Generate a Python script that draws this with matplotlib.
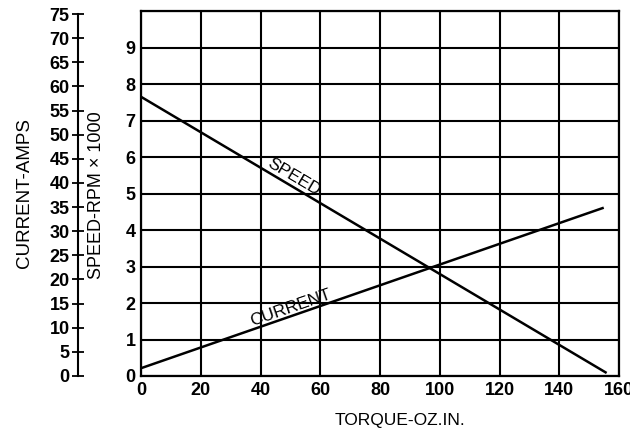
import numpy as np
import matplotlib
matplotlib.use("Agg")
import matplotlib.pyplot as plt

plt.rcParams['font.family'] = ['Liberation Sans', 'DejaVu Sans']

# Data
speed_torque = [0, 155.5]
speed_krpm = [7.65, 0.1]
current_torque = [0, 154.5]
current_amps = [1.6, 34.5]

x_ticks = [0, 20, 40, 60, 80, 100, 120, 140, 160]
speed_ticks = [0, 1, 2, 3, 4, 5, 6, 7, 8, 9]
current_ticks = list(range(0, 80, 5))

AMPS_PER_KRPM = 7.5

W, H = 630, 430
fig = plt.figure(figsize=(W / 100, H / 100), dpi=100)
left, right, top, bottom = 141, 619, 11, 376
ax = fig.add_axes([left / W, 1 - bottom / H, (right - left) / W, (bottom - top) / H])

ax.set_xlim(0, 160)
ax.set_ylim(0, 10)
ax.set_xticks(x_ticks)
ax.set_yticks(list(range(0, 11)))
ax.set_yticklabels([str(v) if v in speed_ticks else '' for v in range(0, 11)])
ax.grid(True, color='black', linewidth=1.5)
for s in ax.spines.values():
    s.set_linewidth(1.6)
    s.set_color('black')
ax.tick_params(length=0, labelsize=13, pad=4)
for lab in ax.get_xticklabels() + ax.get_yticklabels():
    lab.set_fontweight('bold')

ax.plot(speed_torque, speed_krpm, color='black', linewidth=1.8, zorder=3)
ax.plot(current_torque, [c / AMPS_PER_KRPM for c in current_amps], color='black', linewidth=1.8, zorder=3)

def angle_of(xs, ys):
    p = ax.transData.transform(np.column_stack([xs, ys]))
    return np.degrees(np.arctan2(p[1, 1] - p[0, 1], p[1, 0] - p[0, 0]))

a_speed = angle_of(speed_torque, speed_krpm)
a_cur = angle_of(current_torque, [c / AMPS_PER_KRPM for c in current_amps])
ax.text(51, 5.45, 'SPEED', rotation=a_speed, ha='center', va='center',
        rotation_mode='anchor', fontsize=12.5, zorder=4)
ax.text(50, 1.88, 'CURRENT', rotation=a_cur, ha='center', va='center',
        rotation_mode='anchor', fontsize=12.5, zorder=4)

# outer current axis
ax2 = fig.add_axes([78 / W, 1 - bottom / H, 0.001, (bottom - top) / H])
ax2.set_ylim(0, 75 * (bottom - top) / (bottom - 14))
ax2.set_xticks([])
ax2.set_yticks(current_ticks)
for k in ['top', 'right', 'bottom']:
    ax2.spines[k].set_visible(False)
ax2.spines['left'].set_bounds(0, 75)
ax2.spines['left'].set_linewidth(1.5)
ax2.tick_params(axis='y', direction='inout', length=8, width=1.3, labelsize=13, pad=2)
for lab in ax2.get_yticklabels():
    lab.set_fontweight('bold')
ax2.patch.set_visible(False)

fig.text(25 / W, 1 - 193 / H, 'CURRENT-AMPS', rotation=90, ha='center', va='center', fontsize=13.5)
fig.text(96 / W, 1 - 195 / H, 'SPEED-RPM \u00d7 1000', rotation=90, ha='center', va='center', fontsize=13)
fig.text(400 / W, 1 - 420 / H, 'TORQUE-OZ.IN.', ha='center', va='center', fontsize=12.5)

fig.savefig('out.png', dpi=100)
